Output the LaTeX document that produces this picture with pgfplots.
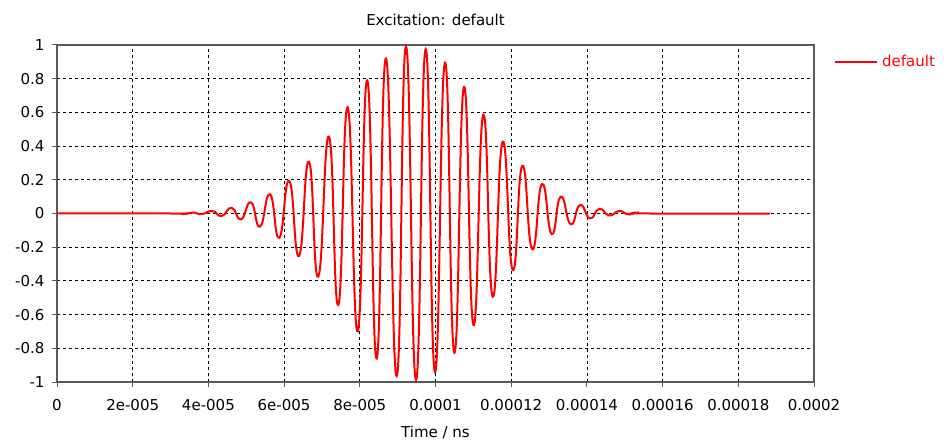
\documentclass[border=0pt]{standalone}
\usepackage{fontspec}
\setmainfont{DejaVu Sans}
\usepackage{pgfplots}
\pgfplotsset{compat=1.18}
\begin{document}
\begin{tikzpicture}[font=\fontsize{15bp}{18bp}\selectfont]
\useasboundingbox (-57bp,-63bp) rectangle (891bp,382bp);
\begin{axis}[
    at={(0bp,0bp)}, anchor=south west,
    scale only axis,
    width=757bp, height=337bp,
    xmin=0, xmax=200,
    ymin=-1, ymax=1,
    xtick={0,20,40,60,80,100,120,140,160,180,200},
    xticklabels={0,2e-005,4e-005,6e-005,8e-005,0.0001,0.00012,0.00014,0.00016,0.00018,0.0002},
    ytick={-1,-0.8,-0.6,-0.4,-0.2,0,0.2,0.4,0.6,0.8,1},
    yticklabels={-1,-0.8,-0.6,-0.4,-0.2,0,0.2,0.4,0.6,0.8,1},
    tick pos=left,
    tick align=outside,
    major tick length=5bp,
    grid=major,
    major grid style={black, line width=0.8bp, dash pattern=on 3bp off 3bp},
    axis line style={draw=black!65, line width=1.2bp},
    tick style={draw=black!65, line width=1bp},
    xticklabel style={yshift=-9bp},
    yticklabel style={xshift=-4bp},
    title={Excitation: default},
    title style={at={(axis description cs:0.5,1)}, anchor=center, yshift=19bp},
    xlabel={Time / ns},
    xlabel style={at={(axis description cs:0.5,0)}, anchor=center, yshift=-50bp},
    legend style={at={(axis description cs:1,1)}, anchor=north west,
        xshift=20bp, yshift=-6bp, draw=none, fill=none, text=red,
        inner sep=0pt, nodes={inner sep=4bp}},
    legend image code/.code={\draw[red, line width=2bp] (0bp,0bp) -- (42bp,0bp);},
]
% extrema of the excitation pulse, time in units of 1e-6
\addplot[red, line width=2bp, smooth, tension=0.9] coordinates {
    (0,0) (30,0)
    (33.16,-0.003) (35.93,0.006) (38.23,-0.004) (41.03,0.015)
    (43.51,-0.015) (46.16,0.034) (48.61,-0.035) (51.25,0.066)
    (53.63,-0.078) (56.27,0.114) (58.73,-0.144) (61.37,0.193)
    (63.94,-0.252) (66.58,0.307) (69.03,-0.375) (71.86,0.456)
    (74.32,-0.543) (76.80,0.63) (79.45,-0.70) (81.98,0.79)
    (84.46,-0.86) (86.92,0.92) (89.75,-0.964) (92.21,0.99)
    (94.85,-0.988) (97.41,0.975) (99.87,-0.94) (102.51,0.895)
    (104.97,-0.826) (107.53,0.75) (110.04,-0.662) (112.63,0.585)
    (115.11,-0.494) (117.75,0.426) (120.40,-0.335) (122.93,0.282)
    (125.55,-0.212) (128.14,0.175) (130.70,-0.122) (133.08,0.10)
    (135.72,-0.064) (138.18,0.05) (140.82,-0.029) (143.28,0.028)
    (145.92,-0.012) (148.48,0.015) (150.99,-0.005) (153.6,0.006)
    (156.5,0) (188.4,0)
};
\addlegendentry{default}
\end{axis}
\end{tikzpicture}
\end{document}
